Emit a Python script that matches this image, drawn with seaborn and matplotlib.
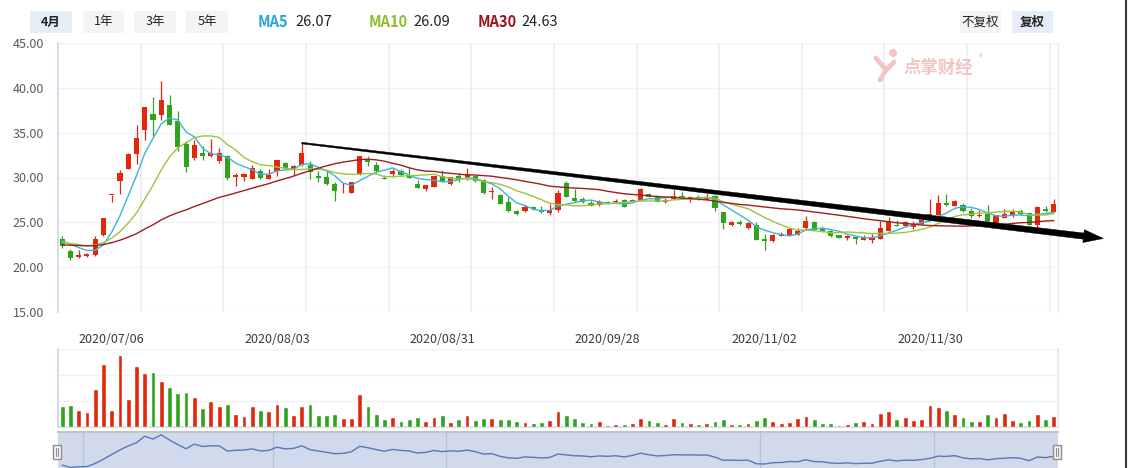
import numpy as np
import pandas as pd
import matplotlib
matplotlib.use("Agg")
import matplotlib.pyplot as plt
import seaborn as sns
from matplotlib.patches import Rectangle, Polygon, Ellipse
from matplotlib.lines import Line2D
from matplotlib.transforms import IdentityTransform

W, H = 1129, 468

# ---------------- data ----------------
open_ = [23.17, 21.84, 21.09, 21.28, 21.32, 23.55, 28.02, 29.57, 30.91, 32.58,
         35.26, 37.12, 36.93, 38.12, 36.33, 33.77, 32.17, 32.77, 32.36, 31.80,
         32.36, 30.02, 30.02, 29.79, 30.76, 29.87, 30.68, 31.65, 30.83, 31.35,
         31.39, 30.20, 30.09, 29.31, 28.57, 28.27, 30.39, 32.06, 31.43, 29.94,
         30.35, 30.76, 30.24, 29.31, 28.75, 28.97, 30.13, 29.23, 30.20, 30.02,
         30.13, 29.75, 28.38, 28.08, 27.30, 26.30, 26.22, 26.71, 26.41, 26.04,
         26.34, 29.38, 27.71, 27.60, 27.15, 26.93, 27.23, 27.23, 27.52, 27.34,
         27.52, 28.16, 27.90, 27.23, 27.60, 27.90, 27.67, 27.78, 27.49, 27.90,
         26.19, 24.66, 24.99, 24.33, 24.74, 23.17, 22.88, 23.47, 23.62, 23.62,
         24.37, 25.03, 24.37, 24.07, 23.58, 23.21, 23.32, 22.99, 22.99, 23.14,
         23.99, 24.74, 24.62, 24.44, 24.85, 25.48, 25.85, 27.15, 26.86, 26.89,
         26.22, 25.66, 25.96, 24.85, 25.48, 25.85, 26.22, 26.04, 24.66, 26.48,
         26.15]
high = [23.51, 22.06, 21.87, 21.61, 23.51, 25.50, 28.03, 30.83, 32.70, 35.89,
        37.90, 39.01, 40.80, 39.23, 37.45, 34.03, 34.22, 33.51, 34.33, 33.32,
        32.54, 30.46, 30.42, 31.43, 30.98, 30.98, 32.00, 31.76, 31.43, 33.84,
        31.80, 30.76, 30.87, 29.46, 29.38, 29.50, 32.43, 32.43, 31.72, 30.27,
        30.91, 30.94, 31.13, 29.75, 29.20, 30.20, 30.83, 30.02, 30.50, 31.06,
        30.20, 29.83, 28.90, 28.19, 27.86, 26.41, 26.97, 26.78, 26.86, 27.08,
        28.64, 29.64, 28.75, 27.82, 27.52, 27.52, 27.34, 27.60, 27.55, 27.55,
        28.79, 28.27, 28.08, 27.71, 28.57, 28.42, 27.85, 28.01, 28.16, 28.08,
        26.20, 25.11, 25.29, 25.07, 24.99, 23.70, 23.70, 23.96, 24.37, 24.33,
        25.74, 25.18, 24.55, 24.18, 23.60, 23.62, 23.51, 23.62, 23.70, 25.18,
        25.55, 25.29, 25.11, 25.11, 25.41, 27.63, 28.08, 28.16, 27.52, 27.15,
        26.59, 26.41, 26.97, 25.80, 26.48, 26.48, 26.52, 26.15, 26.86, 26.86,
        27.63]
low = [22.13, 20.76, 20.98, 21.17, 21.30, 23.50, 27.23, 28.16, 30.90, 31.54,
       34.22, 34.59, 36.45, 35.80, 32.99, 30.57, 31.91, 31.91, 32.25, 31.61,
       29.76, 29.01, 29.57, 29.78, 29.83, 29.85, 30.13, 30.94, 30.24, 31.30,
       29.83, 29.49, 29.20, 27.34, 28.23, 28.27, 30.24, 31.24, 30.50, 29.78,
       30.05, 30.13, 29.90, 28.78, 28.45, 28.94, 29.55, 29.20, 29.46, 29.76,
       29.55, 28.20, 27.64, 27.00, 26.11, 25.78, 26.20, 26.41, 26.04, 25.78,
       26.15, 27.78, 27.23, 27.20, 26.78, 26.86, 27.00, 27.20, 26.70, 27.30,
       27.50, 27.79, 27.25, 27.20, 27.60, 27.76, 27.26, 27.45, 27.48, 26.22,
       24.29, 24.55, 24.66, 24.30, 22.98, 21.95, 22.85, 23.45, 23.60, 23.60,
       24.18, 24.17, 23.88, 23.42, 23.20, 23.06, 22.54, 22.98, 22.69, 23.10,
       23.98, 24.54, 24.60, 24.29, 24.74, 25.45, 25.78, 26.78, 26.85, 26.20,
       25.48, 25.65, 25.03, 24.85, 25.45, 25.55, 25.78, 24.65, 24.36, 26.15,
       26.15]
close = [22.32, 21.02, 21.39, 21.50, 23.17, 25.48, 28.03, 30.50, 32.66, 34.40,
         37.90, 36.37, 38.68, 35.81, 33.36, 31.13, 33.66, 32.36, 32.69, 32.73,
         29.90, 30.31, 30.42, 31.06, 29.94, 30.24, 31.99, 31.05, 31.32, 32.73,
         30.61, 29.90, 29.23, 28.45, 28.64, 29.49, 32.43, 31.69, 30.68, 29.79,
         30.76, 30.24, 29.90, 28.79, 29.20, 30.20, 29.57, 30.01, 29.75, 30.39,
         29.57, 28.23, 28.49, 27.00, 26.22, 25.93, 26.74, 26.48, 26.15, 26.41,
         28.27, 27.79, 27.34, 27.23, 26.78, 27.27, 27.04, 27.34, 26.71, 27.52,
         28.71, 27.86, 27.26, 27.45, 27.90, 27.78, 27.82, 27.67, 27.78, 26.59,
         24.88, 24.99, 24.81, 24.96, 22.99, 22.88, 23.58, 23.70, 24.25, 24.07,
         25.18, 24.18, 24.07, 23.43, 23.21, 23.51, 23.10, 23.25, 23.32, 24.36,
         25.11, 24.55, 24.99, 24.85, 25.29, 25.93, 27.15, 26.97, 27.41, 26.22,
         25.66, 25.85, 25.11, 25.78, 25.96, 26.30, 25.93, 24.66, 26.67, 26.30,
         27.04]
volume = [21.3, 22.3, 17.3, 14.7, 38.3, 63.3, 17.3, 72.3, 28.3, 61.3,
          54.3, 55.3, 46.3, 40.3, 34.3, 35.3, 30.3, 19.3, 26.3, 21.3,
          23.3, 13.3, 11.3, 21.3, 17.3, 16.3, 23.3, 20.3, 12.3, 21.3,
          23.3, 12.3, 12.3, 13.3, 9.3, 9.3, 33.3, 21.3, 13.3, 8.3,
          10.3, 6.3, 8.3, 10.3, 6.3, 10.3, 12.3, 5.3, 8.3, 12.3,
          7.3, 9.3, 9.3, 8.3, 8.3, 6.3, 5.3, 4.3, 5.3, 7.3,
          16.3, 12.3, 9.3, 5.3, 4.3, 6.3, 2.3, 3.3, 3.3, 4.3,
          9.3, 7.3, 5.3, 3.3, 9.3, 5.3, 4.3, 3.3, 4.3, 6.3,
          8.3, 3.3, 3.3, 4.3, 7.3, 10.3, 6.3, 4.3, 5.3, 9.3,
          11.3, 8.3, 4.3, 4.3, 2.3, 3.3, 5.3, 6.3, 4.3, 14.3,
          16.3, 8.3, 10.3, 7.3, 8.3, 22.3, 20.3, 17.3, 13.3, 10.3,
          6.3, 6.3, 13.3, 10.3, 14.3, 7.3, 5.3, 7.3, 13.3, 8.3,
          11.3]
# estimated closes of the 29 sessions before the visible window (needed for MA5/10/30)
prior_close = [22.1, 22.4, 22.6, 22.3, 22.0, 21.8, 22.2, 22.5, 22.7, 22.4,
               22.1, 22.3, 22.6, 22.2, 22.0, 22.4, 22.5, 22.3, 22.6, 22.8,
               22.4, 22.6, 22.8, 22.5, 22.7, 23.0, 23.2, 23.1, 23.1]

date_labels = ["2020/07/06", "2020/08/03", "2020/08/31", "2020/09/28", "2020/11/02", "2020/11/30"]
date_label_idx = [6, 26, 46, 66, 85, 105]
month_start_idx = [3, 26, 47, 85, 106]
price_ticks = [15, 20, 25, 30, 35, 40, 45]
ma_windows = [5, 10, 30]
ma_names = ["MA5", "MA10", "MA30"]
ma_header_values = ["26.07", "26.09", "24.63"]
period_buttons = ["4月", "1年", "3年", "5年"]
adjust_buttons = ["不复权", "复权"]

# ---------------- styling ----------------
sns.set_theme(style="white")
plt.rcParams['font.family'] = ['Noto Sans CJK SC', 'DejaVu Sans']
plt.rcParams['axes.unicode_minus'] = False

RED = "#e1270c"
GREEN = "#2fa31b"
MA_COLORS = ["#3db4dc", "#9cc43c", "#a01d22"]
HDR_COLORS = ["#25a6d8", "#8cbd2b", "#a0101a"]
GRID_H = "#f2f2f2"
GRID_V = "#e9eef5"
AXIS_C = "#ccd6eb"

n = len(close)
df = pd.DataFrame({"i": np.arange(n), "open": open_, "high": high, "low": low,
                   "close": close, "volume": volume})
df["dir"] = np.where(df["close"] >= df["open"], "up", "down")
full_close = pd.Series(prior_close + close)
for w in ma_windows:
    df[f"ma{w}"] = full_close.rolling(w).mean().iloc[len(prior_close):].to_numpy()

fig = plt.figure(figsize=(W / 100, H / 100), dpi=100)
fig.patch.set_facecolor("white")

def fx(px):
    return px / W

def fy(py):
    return 1 - py / H

L0, R0 = 58, 1058
ax = fig.add_axes([fx(L0), fy(312), (R0 - L0) / W, 269 / H])
axv = fig.add_axes([fx(L0), fy(427), (R0 - L0) / W, 78 / H])
axn = fig.add_axes([fx(L0), fy(468), (R0 - L0) / W, 36 / H])

# ---------------- main candle chart ----------------
x = df["i"].to_numpy()
o = df["open"].to_numpy(); c = df["close"].to_numpy()
colors = np.where(df["dir"] == "up", RED, GREEN)
ax.set_xlim(-0.5, n - 0.5)
ax.set_ylim(15, 45)
for yv in price_ticks:
    ax.axhline(yv, color=GRID_H, lw=1, zorder=0)
for gx in np.arange(9.5, n - 1, 10):
    ax.axvline(gx, color=GRID_V, lw=1.2, zorder=0)

ax.vlines(x, df["low"], df["high"], colors=colors, linewidth=0.9, zorder=3)
body_bottom = np.minimum(o, c)
body_h = np.maximum(np.abs(c - o), 0.09)
ax.bar(x, body_h, bottom=body_bottom, width=0.62, color=colors, linewidth=0, zorder=4)

for w, col in zip(ma_windows, MA_COLORS):
    sns.lineplot(data=df, x="i", y=f"ma{w}", ax=ax, color=col, linewidth=1.0, zorder=5)

ax.set_xlabel(""); ax.set_ylabel("")
ax.set_yticks(price_ticks)
ax.set_yticklabels([f"{v:.2f}" for v in price_ticks], color="#5a5a5a", fontsize=9)
ax.set_xticks(date_label_idx)
ax.set_xticklabels(date_labels, color="#3a3a3a", fontsize=9)
ax.tick_params(axis="y", length=0, pad=10)
ax.tick_params(axis="x", length=0, pad=15)
for s in ["top", "bottom"]:
    ax.spines[s].set_visible(False)
ax.spines["left"].set_color(AXIS_C); ax.spines["left"].set_linewidth(1.2)
ax.spines["right"].set_color("#e9edf3"); ax.spines["right"].set_linewidth(1.0)
ax.set_facecolor("white")

# ---------------- volume ----------------
sns.barplot(data=df, x="i", y="volume", hue="dir", hue_order=["up", "down"],
            palette={"up": RED, "down": GREEN}, dodge=False, width=0.58,
            saturation=1, errorbar=None, legend=False, ax=axv, zorder=3)
axv.set_xlim(-0.5, n - 0.5)
axv.set_ylim(0, 78)
for yv in [26, 52, 78]:
    axv.axhline(yv, color=GRID_H, lw=1, zorder=0)
axv.set_xticks([]); axv.set_yticks([])
axv.set_xlabel(""); axv.set_ylabel("")
axv.spines["top"].set_visible(False)
axv.spines["left"].set_color(AXIS_C)
axv.spines["bottom"].set_color(AXIS_C); axv.spines["bottom"].set_linewidth(1.2)
axv.spines["right"].set_color("#e3e8f0")

# ---------------- navigator ----------------
axn.set_facecolor("#d1daec")
sns.lineplot(data=df, x="i", y="close", ax=axn, color="#5878b8", linewidth=1.0, zorder=3)
axn.set_xlim(-0.5, n - 0.5)
axn.set_ylim(min(close) - 0.3, max(close) + 1.5)
for m in month_start_idx:
    axn.axvline(m - 0.5, color="#b7c2d9", lw=1, zorder=1)
axn.set_xticks([]); axn.set_yticks([])
axn.set_xlabel(""); axn.set_ylabel("")
for s in ["left", "right", "bottom"]:
    axn.spines[s].set_visible(False)
axn.spines["top"].set_color("#c4c4c4"); axn.spines["top"].set_linewidth(1.5)

for hx in [53, 1053]:
    fig.add_artist(Rectangle((fx(hx), fy(459)), 8 / W, 14 / H, transform=fig.transFigure,
                             facecolor="#f6f6f6", edgecolor="#8e8e8e", lw=1, zorder=10))
    for lx in [hx + 3, hx + 5]:
        fig.add_artist(Line2D([fx(lx), fx(lx)], [fy(456), fy(448)], transform=fig.transFigure,
                              color="#8e8e8e", lw=0.8, zorder=11))

# ---------------- trend arrow (hand-drawn annotation) ----------------
trend_start = 29
p0 = ax.transData.transform((trend_start, high[trend_start]))
tip = ax.transData.transform((126.0, 23.2))
d = tip - p0
u = d / np.hypot(*d)
nv = np.array([-u[1], u[0]])
w0, w1, head_len, head_hw = 1.6, 6.2, 20, 6.5
base = tip - u * head_len
pts = [p0 + nv * w0 / 2, base + nv * w1 / 2, base + nv * head_hw, tip,
       base - nv * head_hw, base - nv * w1 / 2, p0 - nv * w0 / 2]
fig.add_artist(Polygon(pts, closed=True, transform=IdentityTransform(),
                       facecolor="black", edgecolor="black", lw=0.3, zorder=20))

# ---------------- watermark ----------------
wm = "#f5c3c3"
fig.text(fx(938), fy(68), "点掌财经", color=wm, fontsize=12.5, fontweight="bold",
         ha="center", va="center", zorder=1)
fig.text(fx(981), fy(58), "®", color=wm, fontsize=6, ha="center", va="center")
fig.add_artist(Ellipse((fx(893), fy(53)), 8 / W, 8 / H, transform=fig.transFigure,
                       facecolor=wm, edgecolor="none"))
fig.add_artist(Line2D([fx(876), fx(886), fx(894)], [fy(58), fy(70), fy(62)],
                      transform=fig.transFigure, color=wm, lw=3.5, solid_capstyle="round"))
fig.add_artist(Line2D([fx(886), fx(880)], [fy(70), fy(80)],
                      transform=fig.transFigure, color=wm, lw=3.5, solid_capstyle="round"))

# ---------------- header ----------------
btn_boxes = [(30, 72), (83, 124), (134, 176), (186, 228)]
for k, (lab, (bx0, bx1)) in enumerate(zip(period_buttons, btn_boxes)):
    fig.add_artist(Rectangle((fx(bx0), fy(33)), (bx1 - bx0) / W, 22 / H,
                             transform=fig.transFigure,
                             facecolor="#e5edf8" if k == 0 else "#f4f4f4", edgecolor="none"))
    fig.text(fx((bx0 + bx1) / 2), fy(22), lab, ha="center", va="center", fontsize=9,
             color="#222222", fontweight="bold" if k == 0 else "normal")

name_x = [258, 369, 478]
val_x = [295, 413, 521]
for nm, val, col, nx, vx in zip(ma_names, ma_header_values, HDR_COLORS, name_x, val_x):
    fig.text(fx(nx), fy(22), nm, color=col, fontsize=10.5, fontweight="bold", ha="left", va="center")
    fig.text(fx(vx), fy(22), val, color="#222222", fontsize=10.5, ha="left", va="center")

adj_boxes = [(960, 1001), (1012, 1053)]
for k, (lab, (bx0, bx1)) in enumerate(zip(adjust_buttons, adj_boxes)):
    fig.add_artist(Rectangle((fx(bx0), fy(33)), (bx1 - bx0) / W, 22 / H,
                             transform=fig.transFigure,
                             facecolor="#e5edf8" if k == 1 else "#f4f4f4", edgecolor="none"))
    fig.text(fx((bx0 + bx1) / 2), fy(22), lab, ha="center", va="center", fontsize=9,
             color="#222222", fontweight="bold" if k == 1 else "normal")

# window edge at far right
fig.add_artist(Line2D([fx(1126), fx(1126)], [0, 1], transform=fig.transFigure,
                      color="#3a3a3a", lw=1.5))

fig.savefig("out.png", dpi=100)
